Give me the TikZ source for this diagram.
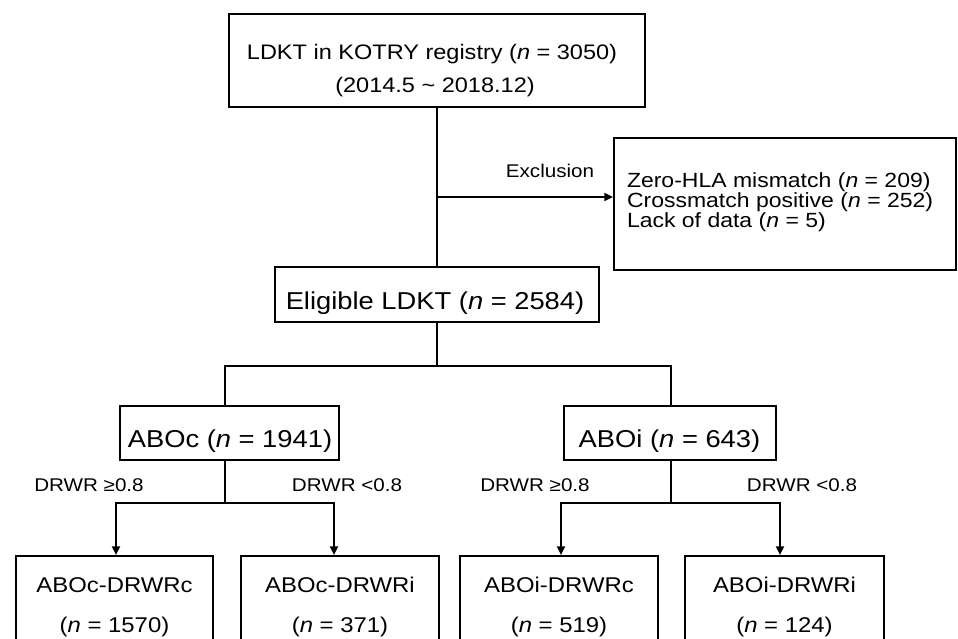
\documentclass[tikz,border=0pt]{standalone}
\usepackage{fontspec}
\setmainfont{Liberation Sans}[FakeStretch=1.12]
\usetikzlibrary{arrows.meta,fit}
\newcommand\fsTop{\fontsize{15.75}{19}\selectfont}
\newcommand\fsBig{\fontsize{18.3}{22}\selectfont}
\newcommand\fsExc{\fontsize{15.4}{18}\selectfont}
\newcommand\fsBot{\fontsize{16}{19}\selectfont}
\newcommand\fsLbl{\fontsize{13.8}{16}\selectfont}
\begin{document}
\begin{tikzpicture}[x=0.75pt,y=-0.75pt,line width=1.5pt,
  box/.style={draw,inner sep=0pt,line width=1.5pt},
  arr/.style={-{Triangle[length=6.5pt,width=6pt]}},
  lbl/.style={anchor=base,inner sep=0pt}]
\useasboundingbox (0,0) rectangle (958,639);

% boxes
\node[box,fit={(229,14)(645,107)}] (top) {};
\node[box,fit={(275,267)(599,322)}] (elig) {};
\node[box,fit={(614,138)(956,270)}] (excl) {};
\node[box,fit={(120,406)(339,460)}] (aboc) {};
\node[box,fit={(564,406)(776,460)}] (aboi) {};
\node[box,fit={(16,556)(213,660)}] (b1) {};
\node[box,fit={(241,556)(439,660)}] (b2) {};
\node[box,fit={(460,556)(658,660)}] (b3) {};
\node[box,fit={(685,556)(884,660)}] (b4) {};

% texts
\node[lbl,font=\fsTop] (t1) at (432,60) {LDKT in KOTRY registry (\textit{n} = 3050)};
\node[lbl,font=\fsTop] (t2) at (435,92) {(2014.5 \textasciitilde{} 2018.12)};
\node[lbl,font=\fsBig] (te) at (435,309) {Eligible LDKT (\textit{n} = 2584)};
\node[lbl,font=\fsBig] (tc) at (230,447) {ABOc (\textit{n} = 1941)};
\node[lbl,font=\fsBig] (ti) at (669.5,447) {ABOi (\textit{n} = 643)};
\node[lbl,font=\fsExc,anchor=base west] (x1) at (626,187) {Zero-HLA mismatch (\textit{n} = 209)};
\node[lbl,font=\fsExc,anchor=base west] (x2) at (626,207) {Crossmatch positive (\textit{n} = 252)};
\node[lbl,font=\fsExc,anchor=base west] (x3) at (626,227.5) {Lack of data (\textit{n} = 5)};
\node[lbl,font=\fsLbl] (lx) at (550,177) {Exclusion};
\node[lbl,font=\fsLbl] (l1) at (89,491) {DRWR ≥0.8};
\node[lbl,font=\fsLbl] (l2) at (347,491) {DRWR <0.8};
\node[lbl,font=\fsLbl] (l3) at (535,491) {DRWR ≥0.8};
\node[lbl,font=\fsLbl] (l4) at (802,491) {DRWR <0.8};
\node[lbl,font=\fsBot] (b1a) at (114.5,592) {ABOc-DRWRc};
\node[lbl,font=\fsBot] (b1b) at (114.5,632) {(\textit{n} = 1570)};
\node[lbl,font=\fsBot] (b2a) at (340,592) {ABOc-DRWRi};
\node[lbl,font=\fsBot] (b2b) at (340,632) {(\textit{n} = 371)};
\node[lbl,font=\fsBot] (b3a) at (559,592) {ABOi-DRWRc};
\node[lbl,font=\fsBot] (b3b) at (559,632) {(\textit{n} = 519)};
\node[lbl,font=\fsBot] (b4a) at (784.5,592) {ABOi-DRWRi};
\node[lbl,font=\fsBot] (b4b) at (784.5,632) {(\textit{n} = 124)};

% helper coordinates
\coordinate (j) at (437,197);
\coordinate (h) at (437,366);
\coordinate (xa) at (225,0);
\coordinate (xb) at (671,0);
\coordinate (ha) at (225,503);
\coordinate (hb) at (671,503);
\coordinate (k1) at (116,503);
\coordinate (k2) at (334,503);
\coordinate (k3) at (561,503);
\coordinate (k4) at (780,503);

% connectors
\draw (top.south) -- (elig.north);
\draw[arr] (j) -- (j -| excl.west);
\draw (elig.south) -- (h);
\draw (aboc.north -| xa) |- (h) -| (aboi.north -| xb);
\draw (aboc.south -| xa) -- (ha);
\draw (aboi.south -| xb) -- (hb);
\draw[arr] (ha) -| (b1.north -| k1);
\draw[arr] (ha) -| (b2.north -| k2);
\draw[arr] (hb) -| (b3.north -| k3);
\draw[arr] (hb) -| (b4.north -| k4);
\end{tikzpicture}
\end{document}
